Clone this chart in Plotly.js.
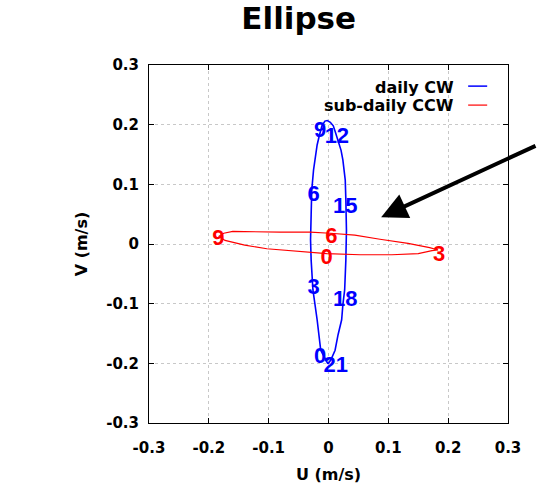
<!DOCTYPE html>
<html>
<head>
<meta charset="utf-8">
<script src="https://cdn.plot.ly/plotly-3.0.1.min.js"></script>
<style>html,body{margin:0;padding:0;background:#fff;}#chart{width:537px;height:484px;}</style>
</head>
<body>
<div id="chart"></div>
<script>
// ---- data ----
const dailyName = "daily CW";
const subName = "sub-daily CCW";

// daily (clockwise) ellipse path, U and V in m/s
const dailyU = [-0.001,-0.013,-0.019,-0.026,-0.029,-0.030,-0.029,-0.028,-0.025,-0.023,-0.019,-0.016,-0.011,-0.006,-0.002,0.003,0.008,0.011,0.016,0.021,0.024,0.028,0.029,0.030,0.029,0.027,0.024,0.022,0.016,0.011,0.004,-0.001];
const dailyV = [-0.201,-0.178,-0.127,-0.077,-0.027,0.007,0.049,0.090,0.124,0.141,0.166,0.179,0.198,0.206,0.207,0.204,0.198,0.189,0.174,0.157,0.141,0.107,0.074,0.023,-0.027,-0.077,-0.102,-0.127,-0.152,-0.178,-0.194,-0.201];

// sub-daily (counter-clockwise) ellipse path
const subU = [-0.003,0.053,0.106,0.150,0.173,0.183,0.169,0.133,0.086,0.044,0.003,-0.031,-0.081,-0.131,-0.160,-0.175,-0.183,-0.173,-0.140,-0.103,-0.064,-0.031,-0.003];
const subV = [-0.016,-0.018,-0.018,-0.016,-0.011,-0.010,-0.006,0.001,0.008,0.015,0.018,0.020,0.020,0.020,0.021,0.018,0.013,0.006,-0.002,-0.008,-0.011,-0.013,-0.016];

// hour labels
const dailyHours = ["0","3","6","9","12","15","18","21"];
const dailyHourU = [-0.014,-0.025,-0.025,-0.014,0.014,0.028,0.028,0.012];
const dailyHourV = [-0.191,-0.074,0.082,0.188,0.178,0.062,-0.094,-0.206];

const subHours = ["0","3","6","9"];
const subHourU = [-0.003,0.185,0.005,-0.184];
const subHourV = [-0.024,-0.020,0.011,0.007];

// axis ticks
const tickVals = [-0.3,-0.2,-0.1,0,0.1,0.2,0.3];
const tickText = ["-0.3","-0.2","-0.1","0","0.1","0.2","0.3"];

// arrow tip (data coords)
const arrowTipU = [0.088];
const arrowTipV = [0.045];

// ---- drawing ----
const FONT = "DejaVu Sans, Verdana, sans-serif";
const LFONT = "Liberation Sans, Arial, Helvetica, sans-serif";
const BLUE = "#0000ff", RED = "#ff0000";

const traces = [
  {x: dailyU, y: dailyV, mode: "lines", name: dailyName, line: {color: BLUE, width: 1.6}, showlegend: false, hoverinfo: "skip"},
  {x: subU, y: subV, mode: "lines", name: subName, line: {color: RED, width: 1.2}, showlegend: false, hoverinfo: "skip"},
  {x: dailyHourU, y: dailyHourV, mode: "text", text: dailyHours, textposition: "middle center",
   textfont: {family: LFONT, size: 22, color: BLUE, weight: "bold"}, showlegend: false, hoverinfo: "skip"},
  {x: subHourU, y: subHourV, mode: "text", text: subHours, textposition: "middle center",
   textfont: {family: LFONT, size: 22, color: RED, weight: "bold"}, showlegend: false, hoverinfo: "skip"}
];

const axisCommon = {
  range: [-0.3, 0.3], tickmode: "array", tickvals: tickVals, ticktext: tickText,
  showline: true, linecolor: "#000", linewidth: 1, mirror: "ticks",
  ticks: "inside", ticklen: 5, tickcolor: "#000", tickwidth: 1,
  showgrid: true, gridcolor: "#c8c8c8", griddash: "dot", gridwidth: 1,
  zeroline: false, fixedrange: true,
  tickfont: {family: FONT, size: 15, color: "#000", weight: "bold"}
};

const layout = {
  width: 537, height: 484,
  margin: {l: 149, r: 29, t: 65, b: 61},
  paper_bgcolor: "#fff", plot_bgcolor: "#fff",
  font: {family: FONT, color: "#000"},
  title: {text: "Ellipse", font: {family: FONT, size: 31, weight: "bold", color: "#000"},
          xref: "paper", x: 0.417, xanchor: "center", yref: "container", y: 0.962, yanchor: "middle"},
  xaxis: Object.assign({}, axisCommon, {
    ticklabelstandoff: 11,
    title: {text: "U (m/s)", font: {family: FONT, size: 16, weight: "bold"}, standoff: 14}
  }),
  yaxis: Object.assign({}, axisCommon, {
    ticklabelstandoff: 6,
    title: {text: "V (m/s)", font: {family: FONT, size: 16, weight: "bold"}, standoff: 14}
  }),
  showlegend: false,
  annotations: [
    {xref: "paper", yref: "paper", x: 0.855, y: 0.938, xanchor: "right", yanchor: "middle", showarrow: false,
     text: dailyName, font: {family: FONT, size: 16, weight: "bold", color: "#000"}},
    {xref: "paper", yref: "paper", x: 0.855, y: 0.886, xanchor: "right", yanchor: "middle", showarrow: false,
     text: subName, font: {family: FONT, size: 16, weight: "bold", color: "#000"}},
    {x: arrowTipU[0], y: arrowTipV[0], xref: "x", yref: "y", text: "", showarrow: true,
     ax: 180, ay: -72, arrowhead: 2, arrowsize: 1.3, arrowwidth: 4, arrowcolor: "#000", standoff: 0}
  ],
  shapes: [
    {type: "line", xref: "paper", yref: "paper", x0: 0.889, x1: 0.942, y0: 0.941, y1: 0.941, line: {color: BLUE, width: 1.5}},
    {type: "line", xref: "paper", yref: "paper", x0: 0.889, x1: 0.942, y0: 0.888, y1: 0.888, line: {color: RED, width: 1.2}}
  ]
};

Plotly.newPlot("chart", traces, layout, {displayModeBar: false, staticPlot: true});
</script>
</body>
</html>
